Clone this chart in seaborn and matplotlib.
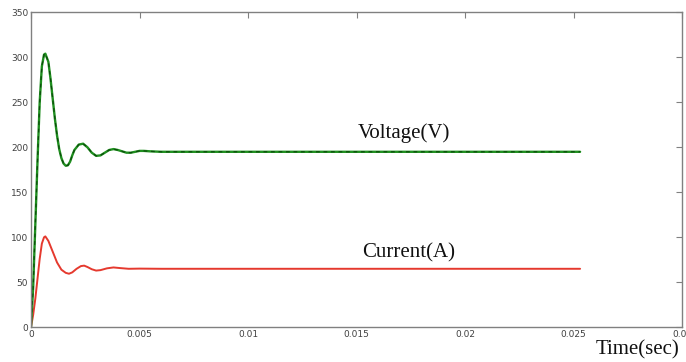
import numpy as np
import pandas as pd
import matplotlib
matplotlib.use("Agg")
import matplotlib.pyplot as plt
import seaborn as sns

# time in seconds
t_voltage = [0, 0.0001, 0.0002, 0.0003, 0.0004, 0.0005, 0.0006, 0.00066, 0.0008, 0.0009,
             0.0010, 0.0011, 0.0012, 0.0013, 0.0014, 0.0015, 0.0016, 0.0017, 0.0018, 0.0019,
             0.0020, 0.0022, 0.0024, 0.0026, 0.0028, 0.0030, 0.0032, 0.0034, 0.0036, 0.0038,
             0.0040, 0.0042, 0.0044, 0.0046, 0.0048, 0.0050, 0.0052, 0.0055, 0.0060, 0.0100,
             0.0150, 0.0200, 0.0253]
voltage = [0, 45, 115, 185, 250, 290, 303, 304, 295, 276,
           254, 232, 213, 198, 188, 182, 179.5, 180, 184, 191,
           197, 203, 204, 200, 194, 190.5, 191, 194, 197, 198,
           197, 195.5, 194, 194, 195, 196, 196, 195.5, 195, 195,
           195, 195, 195]

t_current = [0, 0.0001, 0.0002, 0.0003, 0.0004, 0.0005, 0.0006, 0.00066, 0.0008, 0.0010,
             0.0012, 0.0014, 0.0016, 0.00175, 0.0019, 0.0021, 0.0023, 0.00245, 0.0026, 0.0028,
             0.0030, 0.0032, 0.0035, 0.0038, 0.0041, 0.0045, 0.0050, 0.0060, 0.0100, 0.0150,
             0.0200, 0.0253]
current = [0, 14, 32, 54, 76, 93, 100, 101, 96, 84,
           72, 64, 60.5, 59.5, 61, 65, 68, 68.5, 67, 64.5,
           63, 63.5, 65.5, 66.5, 65.8, 65, 65.2, 65, 65, 65,
           65, 65]

x_ticks = [0, 0.005, 0.01, 0.015, 0.02, 0.025, 0.03]
x_ticklabels = ["0", "0.005", "0.01", "0.015", "0.02", "0.025", "0.03"]
y_ticks = [0, 50, 100, 150, 200, 250, 300, 350]

df_v = pd.DataFrame({"t": t_voltage, "value": voltage})
df_c = pd.DataFrame({"t": t_current, "value": current})

sns.set_style("white")
fig = plt.figure(figsize=(6.86, 3.62), dpi=100)
ax = fig.add_axes([0.0452, 0.0959, 0.9491, 0.8701])

sns.lineplot(data=df_c, x="t", y="value", ax=ax, color="#e5392e", linewidth=1.4)
sns.lineplot(data=df_v, x="t", y="value", ax=ax, color="#1f8f1f", linewidth=1.7)
sns.lineplot(data=df_v, x="t", y="value", ax=ax, color="#0b4d0b", linewidth=0.9,
             linestyle=(0, (3, 3)))

ax.set_xlim(0, 0.03)
ax.set_ylim(0, 350)
ax.set_xticks(x_ticks)
ax.set_xticklabels(x_ticklabels)
ax.set_yticks(y_ticks)
ax.set_xlabel("")
ax.set_ylabel("")
ax.tick_params(direction="in", length=4, width=0.8, colors="#808080",
               labelcolor="#404040", labelsize=6.5, top=True, right=True,
               labeltop=False, labelright=False, pad=2)
for s in ax.spines.values():
    s.set_color("#808080")
    s.set_linewidth(1.0)

ax.text(0.0172, 205, "Voltage(V)", family="Liberation Serif", fontsize=15,
        ha="center", va="bottom", color="#111111")
ax.text(0.0174, 72, "Current(A)", family="Liberation Serif", fontsize=15,
        ha="center", va="bottom", color="#111111")
fig.text(0.930, 0.008, "Time(sec)", family="Liberation Serif", fontsize=15,
         ha="center", va="bottom", color="#111111")

fig.savefig("out.png", dpi=100, facecolor="white")
